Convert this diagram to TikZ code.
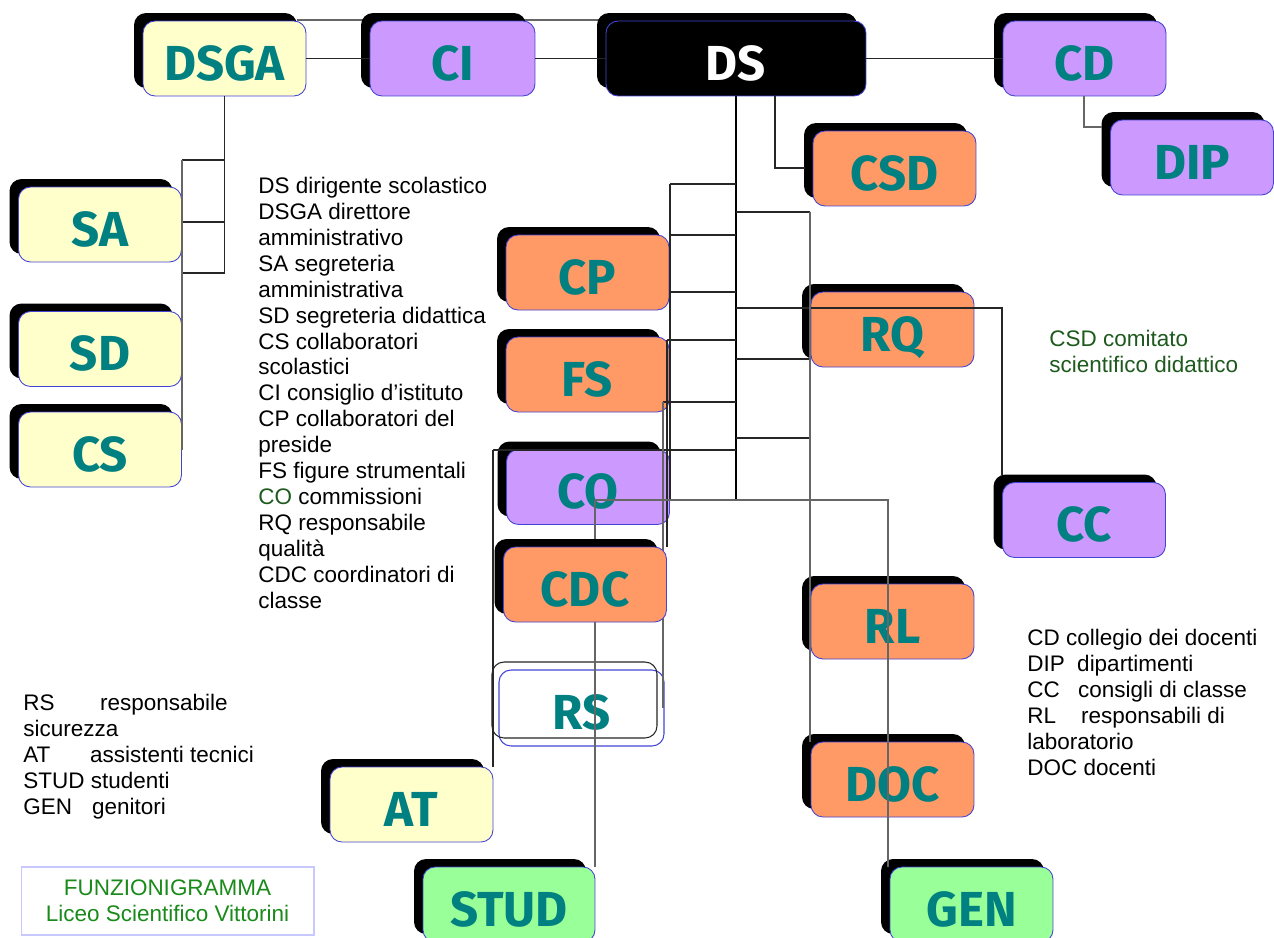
\documentclass[tikz,border=0pt]{standalone}
\usepackage{fontspec}
\setmainfont{Liberation Sans}
\newfontfamily\boxfont{Fira Sans}
\usetikzlibrary{shadows}
\definecolor{byel}{HTML}{FFFFCC}
\definecolor{bpur}{HTML}{CC99FF}
\definecolor{bora}{HTML}{FF9966}
\definecolor{bgre}{HTML}{99FF99}
\definecolor{bteal}{HTML}{008080}
\definecolor{bedge}{HTML}{4444D4}
\definecolor{dgreen}{HTML}{1E5A1E}
\definecolor{fgreen}{HTML}{1A8A1A}
\definecolor{lav}{HTML}{C8C8FF}
\begin{document}
\begin{tikzpicture}[x=0.02cm,y=-0.02cm,
  obox/.style={draw=bedge, line width=0.5pt, rounded corners=0.24cm,
    minimum height=1.5cm, minimum width=3.26cm, inner sep=0pt,
    font=\boxfont\bfseries\fontsize{28}{30}\selectfont, text=bteal,
    text height=25pt, text depth=0pt,
    drop shadow={shadow xshift=-0.18cm, shadow yshift=0.16cm, opacity=1, fill=black}},
  conn/.style={draw=black!85, line width=0.6pt},
  gconn/.style={draw=black!60, line width=0.9pt},
  legend/.style={inner sep=0pt, align=left, font=\fontsize{12.8}{14.74}\selectfont}]
\useasboundingbox (0,0) rectangle (1274,937);
\fill[white] (0,0) rectangle (1274,937);
% line running behind CI
\draw[gconn] (297,20) -- (600,20);
% boxes
\node[obox, fill=byel] (DSGA) at (224.5,58.5) {DSGA};
\node[obox, fill=bpur, minimum width=3.3cm] (CI) at (452.5,58.5) {CI};
\node[obox, fill=black, text=white, minimum width=5.2cm] (DS) at (736,58.5) {DS};
\node[obox, fill=bpur] (CD) at (1084.5,58.5) {CD};
\node[obox, fill=bpur] (DIP) at (1192,157.5) {DIP};
\node[obox, fill=bora] (CSD) at (894.5,168.5) {CSD};
\node[obox, fill=byel] (SA) at (100,224.5) {SA};
\node[obox, fill=byel] (SD) at (100,349) {SD};
\node[obox, fill=byel] (CS) at (100,449.5) {CS};
\node[obox, fill=bora] (CP) at (587.5,272.5) {CP};
\node[obox, fill=bora] (FS) at (587.5,374.5) {FS};
\node[obox, fill=bpur] (CO) at (588,487) {CO};
\node[obox, fill=bora] (RQ) at (892.5,329.5) {RQ};
\node[obox, fill=bpur] (CC) at (1084,520) {CC};
\node[obox, fill=bora] (RL) at (892.5,621.5) {RL};
\node[obox, fill=bora] (DOC) at (892.5,779.5) {DOC};
\node[obox, fill=byel] (AT) at (411.5,804.5) {AT};
\node[obox, fill=bgre, minimum width=3.44cm] (STUD) at (509,904.5) {STUD};
\node[obox, fill=bgre] (GEN) at (971.5,904.5) {GEN};
\node[draw=bedge, line width=0.6pt, fill=white, rounded corners=0.24cm, minimum width=3.3cm,
  minimum height=1.52cm, inner sep=0pt, font=\boxfont\bfseries\fontsize{28}{30}\selectfont,
  text=bteal, text height=25pt, text depth=0pt] (RS) at (581.5,708) {RS};
\node[draw=black!85, line width=0.6pt, rounded corners=0.24cm, minimum width=3.3cm,
  minimum height=1.52cm, inner sep=0pt] (RSb) at (574.5,700) {};
% connectors
\draw[conn] (DSGA.east) -- (CI.west);
\draw[conn] (CI.east) -- (DS.west);
\draw[conn] (DS.east) -- (CD.west);
\draw[conn] (DSGA.south) -- (224.5,273);
\draw[conn] (182,160) -- (224.5,160);
\draw[conn] (182,222) -- (224.5,222);
\draw[conn] (182,273) -- (224.5,273);
\draw[gconn] (182,160) -- (182,450);
\draw[conn] (775,96) |- (805,168);
\draw[gconn] (1084,96) |- (1102,127);
\draw[black, line width=1.2pt] (DS.south) -- (736,500);
\foreach \yy in {184,235,292} \draw[conn] (670,\yy) -- (736,\yy);
\draw[conn] (667,340) -- (736,340);
\draw[conn] (663,402) -- (736,402);
\draw[conn] (493,450) -- (736,450);
\draw[conn] (670,184) -- (670,500);
\draw[conn] (667,340) -- (667,547);
\draw[gconn] (663,402) -- (663,708);
\draw[conn] (493,450) -- (493,767);
\foreach \yy in {212,359,438} \draw[conn] (736,\yy) -- (810,\yy);
\draw[conn] (736,308) -- (1002,308) -- (1002,475);
\draw[gconn] (810,212) -- (810,742);
\draw[gconn] (595,500) -- (888,500) -- (888,867);
\draw[gconn] (595,500) -- (595,867);
% CDC box on top of the vertical line
\node[obox, fill=bora] (CDC) at (585,584.5) {CDC};
% legends (base anchor = baseline of the last line)
\node[legend, anchor=base west] (legA) at (258,608) {DS dirigente scolastico\\DSGA direttore\\amministrativo\\SA segreteria\\amministrativa\\SD segreteria didattica\\CS collaboratori\\scolastici\\CI consiglio d’istituto\\CP collaboratori del\\preside\\FS figure strumentali\\\textcolor{dgreen}{CO} commissioni\\RQ responsabile\\qualità\\CDC coordinatori di\\classe};
\node[legend, anchor=base west, text=dgreen] (legCSD) at (1049,372) {CSD comitato\\scientifico didattico};
\node[legend, anchor=base west] (legB) at (1027,775) {CD collegio dei docenti\\\makebox[28.4pt][l]{DIP}dipartimenti\\\makebox[28.9pt][l]{CC}consigli di classe\\\makebox[30.6pt][l]{RL}responsabili di\\laboratorio\\DOC docenti};
\node[legend, anchor=base west] (legC) at (23,814) {\makebox[43.7pt][l]{RS}responsabile\\sicurezza\\\makebox[38pt][l]{AT}assistenti tecnici\\STUD studenti\\\makebox[39.1pt][l]{GEN}genitori};
\node[draw=lav, line width=0.6pt, minimum width=5.86cm, minimum height=1.36cm, inner sep=0pt,
  align=center, text=fgreen, font=\fontsize{12.8}{14.74}\selectfont] (FUN) at (167.5,901) {FUNZIONIGRAMMA\\Liceo Scientifico Vittorini};
\end{tikzpicture}
\end{document}
